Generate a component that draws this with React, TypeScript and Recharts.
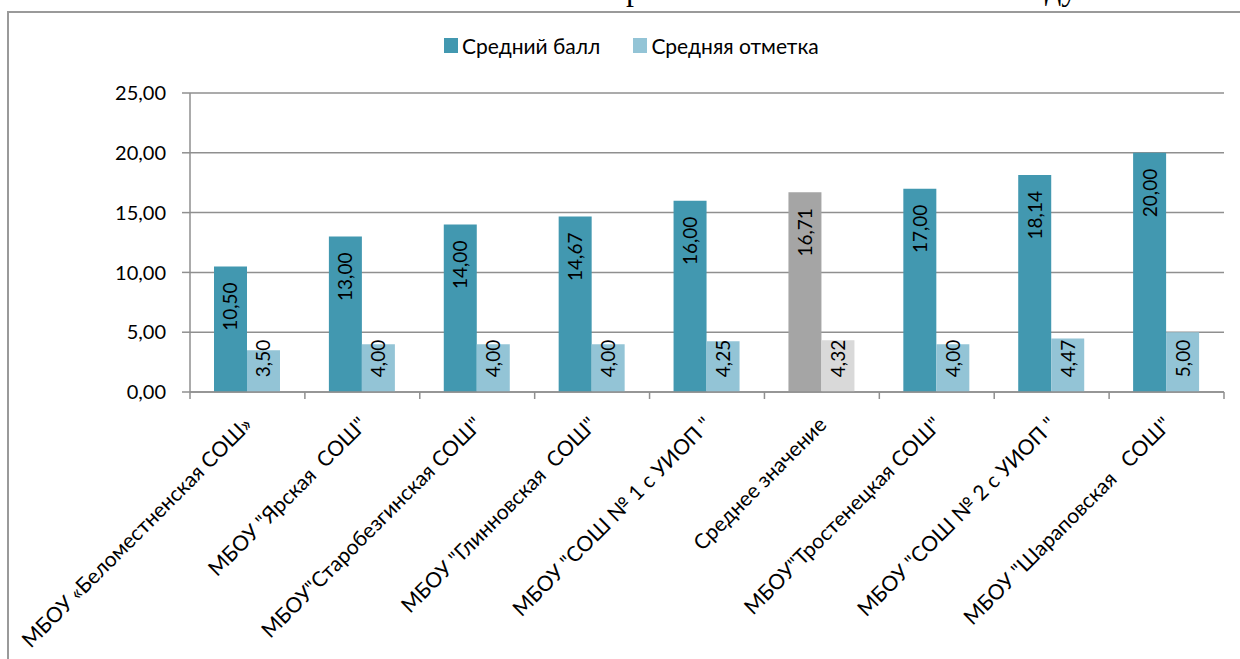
import React from 'react'
import { BarChart, Bar, XAxis, YAxis, CartesianGrid, Cell, LabelList } from 'recharts'

const schools = [
  'МБОУ «Беломестненская СОШ»',
  'МБОУ "Ярская  СОШ"',
  'МБОУ"Старобезгинская СОШ"',
  'МБОУ "Глинновская  СОШ"',
  'МБОУ "СОШ № 1 с УИОП "',
  'Среднее значение',
  'МБОУ"Тростенецкая СОШ"',
  'МБОУ "СОШ № 2 с УИОП "',
  'МБОУ "Шараповская   СОШ"',
]
const avgScore = [10.5, 13.0, 14.0, 14.67, 16.0, 16.71, 17.0, 18.14, 20.0]
const avgMark = [3.5, 4.0, 4.0, 4.0, 4.25, 4.32, 4.0, 4.47, 5.0]
const yTicks = [0, 5, 10, 15, 20, 25]
const AVG_ROW = 'Среднее значение'

const FONT = "Lato, 'Noto Sans', sans-serif"
const GRID = '#8f8f8f'
const DARK = '#4298b0'
const LIGHT = '#93c4d6'
const DARK_AVG = '#a5a5a5'
const LIGHT_AVG = '#d9d9d9'

const data = schools.map((name, i) => ({ name, score: avgScore[i], mark: avgMark[i] }))

const fmt = (v: number) => v.toFixed(2).replace('.', ',')

// value label: rotated, near the top of the bar, pushed up when the bar is short
function BarValue(props: any) {
  const { x, y, width, height, value } = props
  const txt = fmt(Number(value))
  const len = txt.length * 9.8
  const bottom = y + height
  const start = Math.min(y + 16, bottom - 13 - len)
  const cx = x + width / 2 + 7
  return (
    <text
      x={cx}
      y={start}
      transform={`rotate(-90, ${cx}, ${start})`}
      textAnchor="end"
      fontFamily={FONT}
      fontSize={19}
      fill="#000"
    >
      {txt}
    </text>
  )
}

function SchoolTick(props: any) {
  const { x, y, payload, index } = props
  const half = payload?.offset ?? 57.4
  const lx = x + 6
  const ly = y + 34
  return (
    <g>
      <line x1={x - half} y1={y} x2={x - half} y2={y + 7} stroke={GRID} strokeWidth={1.5} />
      {index === schools.length - 1 && (
        <line x1={x + half} y1={y} x2={x + half} y2={y + 7} stroke={GRID} strokeWidth={1.5} />
      )}
      <text
        x={lx}
        y={ly}
        transform={`rotate(-45, ${lx}, ${ly})`}
        textAnchor="end"
        fontFamily={FONT}
        fontSize={21}
        fill="#000"
        style={{ whiteSpace: 'pre' }}
      >
        {payload.value}
      </text>
    </g>
  )
}

export default function App() {
  return (
    <div style={{ position: 'absolute', left: 0, top: 0, width: 1240, height: 659, overflow: 'hidden', background: '#fff' }}>
      {/* cut-off line of document text above the chart */}
      <svg width={1240} height={11} style={{ position: 'absolute', left: 0, top: 0 }}>
        <text x={626} y={0} fontFamily="'Liberation Serif', serif" fontSize={32}>р</text>
        <text x={1045} y={0} fontFamily="'Liberation Serif', serif" fontSize={32}>ду</text>
      </svg>

      {/* chart frame */}
      <div style={{
        position: 'absolute', left: 7, top: 11, width: 1240, height: 660,
        borderTop: '2px solid #9a9a9a', borderLeft: '2px solid #9a9a9a',
      }} />

      {/* legend */}
      <div style={{
        position: 'absolute', left: 444, top: 33, display: 'flex', alignItems: 'center',
        fontFamily: FONT, fontSize: 21, color: '#000',
      }}>
        <span style={{ width: 14, height: 15, background: DARK, marginRight: 4 }} />
        <span style={{ marginRight: 33 }}>Средний балл</span>
        <span style={{ width: 14, height: 15, background: LIGHT, marginRight: 4 }} />
        <span>Средняя отметка</span>
      </div>

      <div style={{ position: 'absolute', left: 0, top: 0 }}>
        <BarChart
          width={1240}
          height={659}
          data={data}
          margin={{ top: 93, right: 16, left: 0, bottom: 0 }}
          barCategoryGap={24}
          barGap={0}
        >
          <CartesianGrid horizontal vertical={false} stroke={GRID} strokeWidth={1.5} />
          <XAxis
            dataKey="name"
            interval={0}
            height={267}
            tickSize={0}
            tickMargin={0}
            tickLine={false}
            axisLine={{ stroke: GRID, strokeWidth: 1.5 }}
            tick={<SchoolTick />}
          />
          <YAxis
            width={190}
            domain={[0, 25]}
            ticks={yTicks}
            interval={0}
            tickFormatter={fmt}
            tickSize={8}
            tickMargin={16}
            tickLine={{ stroke: GRID, strokeWidth: 1.5 }}
            axisLine={{ stroke: GRID, strokeWidth: 1.5 }}
            tick={{ fontFamily: FONT, fontSize: 20, fill: '#000' }}
          />
          <Bar dataKey="score" name="Средний балл" fill={DARK} isAnimationActive={false}>
            {data.map(d => (
              <Cell key={d.name} fill={d.name === AVG_ROW ? DARK_AVG : DARK} />
            ))}
            <LabelList dataKey="score" content={<BarValue />} />
          </Bar>
          <Bar dataKey="mark" name="Средняя отметка" fill={LIGHT} isAnimationActive={false}>
            {data.map(d => (
              <Cell key={d.name} fill={d.name === AVG_ROW ? LIGHT_AVG : LIGHT} />
            ))}
            <LabelList dataKey="mark" content={<BarValue />} />
          </Bar>
        </BarChart>
      </div>
    </div>
  )
}
